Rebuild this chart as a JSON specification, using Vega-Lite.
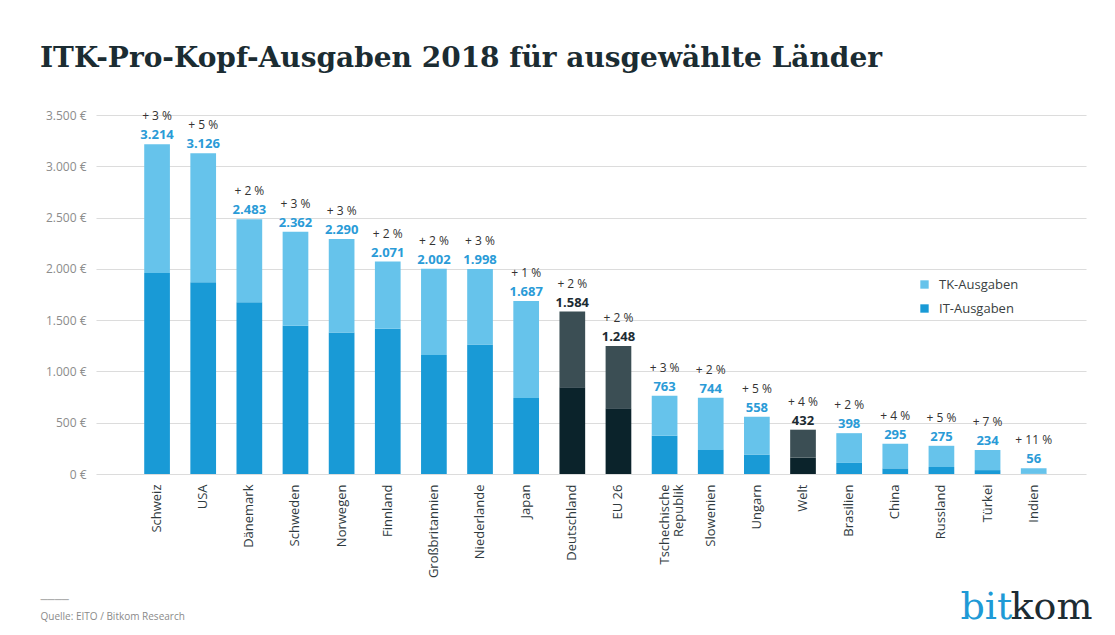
{
  "$schema": "https://vega.github.io/schema/vega-lite/v6.json",
  "autosize": {"type": "none"},
  "padding": {"left": 96, "top": 115, "right": 29, "bottom": 161},
  "width": 990,
  "height": 359,
  "background": "#ffffff",
  "title": {
    "text": "ITK-Pro-Kopf-Ausgaben 2018 für ausgewählte Länder",
    "anchor": "start",
    "frame": "group",
    "dx": -56,
    "offset": 36,
    "font": "DejaVu Serif",
    "fontSize": 28,
    "fontWeight": "bold",
    "color": "#1b2c32"
  },
  "datasets": {
    "segmente": [
      {"land": "Schweiz", "art": "IT", "segment": "IT-Ausgaben", "wert": 1960},
      {"land": "Schweiz", "art": "TK", "segment": "TK-Ausgaben", "wert": 1254},
      {"land": "USA", "art": "IT", "segment": "IT-Ausgaben", "wert": 1870},
      {"land": "USA", "art": "TK", "segment": "TK-Ausgaben", "wert": 1256},
      {"land": "Dänemark", "art": "IT", "segment": "IT-Ausgaben", "wert": 1675},
      {"land": "Dänemark", "art": "TK", "segment": "TK-Ausgaben", "wert": 808},
      {"land": "Schweden", "art": "IT", "segment": "IT-Ausgaben", "wert": 1445},
      {"land": "Schweden", "art": "TK", "segment": "TK-Ausgaben", "wert": 917},
      {"land": "Norwegen", "art": "IT", "segment": "IT-Ausgaben", "wert": 1380},
      {"land": "Norwegen", "art": "TK", "segment": "TK-Ausgaben", "wert": 910},
      {"land": "Finnland", "art": "IT", "segment": "IT-Ausgaben", "wert": 1415},
      {"land": "Finnland", "art": "TK", "segment": "TK-Ausgaben", "wert": 656},
      {"land": "Großbritannien", "art": "IT", "segment": "IT-Ausgaben", "wert": 1160},
      {"land": "Großbritannien", "art": "TK", "segment": "TK-Ausgaben", "wert": 842},
      {"land": "Niederlande", "art": "IT", "segment": "IT-Ausgaben", "wert": 1262},
      {"land": "Niederlande", "art": "TK", "segment": "TK-Ausgaben", "wert": 736},
      {"land": "Japan", "art": "IT", "segment": "IT-Ausgaben", "wert": 740},
      {"land": "Japan", "art": "TK", "segment": "TK-Ausgaben", "wert": 947},
      {"land": "Deutschland", "art": "IT", "segment": "IT-Ausgaben (hervorgehoben)", "wert": 845},
      {"land": "Deutschland", "art": "TK", "segment": "TK-Ausgaben (hervorgehoben)", "wert": 739},
      {"land": "EU 26", "art": "IT", "segment": "IT-Ausgaben (hervorgehoben)", "wert": 640},
      {"land": "EU 26", "art": "TK", "segment": "TK-Ausgaben (hervorgehoben)", "wert": 608},
      {"land": "Tschechische Republik", "art": "IT", "segment": "IT-Ausgaben", "wert": 372},
      {"land": "Tschechische Republik", "art": "TK", "segment": "TK-Ausgaben", "wert": 391},
      {"land": "Slowenien", "art": "IT", "segment": "IT-Ausgaben", "wert": 235},
      {"land": "Slowenien", "art": "TK", "segment": "TK-Ausgaben", "wert": 509},
      {"land": "Ungarn", "art": "IT", "segment": "IT-Ausgaben", "wert": 190},
      {"land": "Ungarn", "art": "TK", "segment": "TK-Ausgaben", "wert": 368},
      {"land": "Welt", "art": "IT", "segment": "IT-Ausgaben (hervorgehoben)", "wert": 160},
      {"land": "Welt", "art": "TK", "segment": "TK-Ausgaben (hervorgehoben)", "wert": 272},
      {"land": "Brasilien", "art": "IT", "segment": "IT-Ausgaben", "wert": 108},
      {"land": "Brasilien", "art": "TK", "segment": "TK-Ausgaben", "wert": 290},
      {"land": "China", "art": "IT", "segment": "IT-Ausgaben", "wert": 55},
      {"land": "China", "art": "TK", "segment": "TK-Ausgaben", "wert": 240},
      {"land": "Russland", "art": "IT", "segment": "IT-Ausgaben", "wert": 68},
      {"land": "Russland", "art": "TK", "segment": "TK-Ausgaben", "wert": 207},
      {"land": "Türkei", "art": "IT", "segment": "IT-Ausgaben", "wert": 38},
      {"land": "Türkei", "art": "TK", "segment": "TK-Ausgaben", "wert": 196},
      {"land": "Indien", "art": "IT", "segment": "IT-Ausgaben", "wert": 5},
      {"land": "Indien", "art": "TK", "segment": "TK-Ausgaben", "wert": 51}
    ],
    "laender": [
      {"land": "Schweiz", "gesamt": 3214, "label": "3.214", "wachstum": "+ 3 %", "hervorgehoben": false},
      {"land": "USA", "gesamt": 3126, "label": "3.126", "wachstum": "+ 5 %", "hervorgehoben": false},
      {"land": "Dänemark", "gesamt": 2483, "label": "2.483", "wachstum": "+ 2 %", "hervorgehoben": false},
      {"land": "Schweden", "gesamt": 2362, "label": "2.362", "wachstum": "+ 3 %", "hervorgehoben": false},
      {"land": "Norwegen", "gesamt": 2290, "label": "2.290", "wachstum": "+ 3 %", "hervorgehoben": false},
      {"land": "Finnland", "gesamt": 2071, "label": "2.071", "wachstum": "+ 2 %", "hervorgehoben": false},
      {"land": "Großbritannien", "gesamt": 2002, "label": "2.002", "wachstum": "+ 2 %", "hervorgehoben": false},
      {"land": "Niederlande", "gesamt": 1998, "label": "1.998", "wachstum": "+ 3 %", "hervorgehoben": false},
      {"land": "Japan", "gesamt": 1687, "label": "1.687", "wachstum": "+ 1 %", "hervorgehoben": false},
      {"land": "Deutschland", "gesamt": 1584, "label": "1.584", "wachstum": "+ 2 %", "hervorgehoben": true},
      {"land": "EU 26", "gesamt": 1248, "label": "1.248", "wachstum": "+ 2 %", "hervorgehoben": true},
      {"land": "Tschechische Republik", "gesamt": 763, "label": "763", "wachstum": "+ 3 %", "hervorgehoben": false},
      {"land": "Slowenien", "gesamt": 744, "label": "744", "wachstum": "+ 2 %", "hervorgehoben": false},
      {"land": "Ungarn", "gesamt": 558, "label": "558", "wachstum": "+ 5 %", "hervorgehoben": false},
      {"land": "Welt", "gesamt": 432, "label": "432", "wachstum": "+ 4 %", "hervorgehoben": true},
      {"land": "Brasilien", "gesamt": 398, "label": "398", "wachstum": "+ 2 %", "hervorgehoben": false},
      {"land": "China", "gesamt": 295, "label": "295", "wachstum": "+ 4 %", "hervorgehoben": false},
      {"land": "Russland", "gesamt": 275, "label": "275", "wachstum": "+ 5 %", "hervorgehoben": false},
      {"land": "Türkei", "gesamt": 234, "label": "234", "wachstum": "+ 7 %", "hervorgehoben": false},
      {"land": "Indien", "gesamt": 56, "label": "56", "wachstum": "+ 11 %", "hervorgehoben": false}
    ]
  },
  "resolve": {"axis": {"y": "independent"}},
  "layer": [
    {
      "data": {"name": "segmente"},
      "mark": {"type": "bar"},
      "encoding": {
        "x": {
          "field": "land",
          "type": "nominal",
          "sort": null,
          "scale": {"paddingInner": 0.443, "paddingOuter": 0.95, "align": 0.55},
          "axis": {
            "labelAngle": 270,
            "labelPadding": 10,
            "labelFontSize": 13,
            "labelColor": "#2f3a3e",
            "labelFont": "Open Sans",
            "labelLineHeight": 14,
            "labelExpr": "datum.value == 'Tschechische Republik' ? ['Tschechische', 'Republik'] : datum.value",
            "ticks": false,
            "domain": false,
            "grid": false,
            "title": ["────", "Quelle: EITO / Bitkom Research"],
            "titleX": -56,
            "titleY": 128,
            "titleAnchor": "start",
            "titleAlign": "left",
            "titleBaseline": "alphabetic",
            "titleFont": "Open Sans",
            "titleFontSize": 10,
            "titleFontWeight": "normal",
            "titleColor": "#8a8a8a",
            "titleLineHeight": 17
          }
        },
        "y": {
          "field": "wert",
          "type": "quantitative",
          "stack": "zero",
          "scale": {"domain": [0, 3500], "nice": false},
          "axis": {
            "values": [0, 500, 1000, 1500, 2000, 2500, 3000, 3500],
            "labelExpr": "replace(format(datum.value, ','), ',', '.') + ' €'",
            "labelFont": "Open Sans",
            "labelFontSize": 12,
            "labelColor": "#8c8c8c",
            "labelPadding": 10,
            "ticks": false,
            "domain": false,
            "grid": true,
            "gridColor": "#dcdcdc",
            "gridWidth": 1.2,
            "title": "bit",
            "titleAngle": 0,
            "titleX": 864,
            "titleY": 503,
            "titleAlign": "left",
            "titleBaseline": "alphabetic",
            "titleFont": "DejaVu Serif",
            "titleFontSize": 38,
            "titleFontWeight": "normal",
            "titleColor": "#1f9ad6"
          }
        },
        "color": {
          "field": "segment",
          "type": "nominal",
          "scale": {
            "domain": ["TK-Ausgaben", "IT-Ausgaben", "TK-Ausgaben (hervorgehoben)", "IT-Ausgaben (hervorgehoben)"],
            "range": ["#66c3eb", "#199ad6", "#3b4e54", "#0b232b"]
          },
          "legend": {
            "values": ["TK-Ausgaben", "IT-Ausgaben"],
            "title": null,
            "orient": "none",
            "legendX": 822,
            "legendY": 163,
            "symbolType": "square",
            "symbolSize": 70,
            "symbolStrokeWidth": 0,
            "labelFont": "Open Sans",
            "labelFontSize": 13,
            "labelColor": "#3a3f42",
            "rowPadding": 10,
            "labelOffset": 8
          }
        },
        "order": {"field": "art", "sort": "ascending"}
      }
    },
    {
      "data": {"name": "laender"},
      "mark": {"type": "text", "baseline": "bottom", "dy": -2, "font": "Open Sans", "fontWeight": "bold", "fontSize": 13},
      "encoding": {
        "x": {"field": "land", "type": "nominal", "sort": null},
        "y": {
          "field": "gesamt",
          "type": "quantitative",
          "axis": {
            "orient": "right",
            "labels": false,
            "ticks": false,
            "domain": false,
            "grid": false,
            "title": "kom",
            "titleAngle": 0,
            "titleX": -76,
            "titleY": 503,
            "titleAlign": "left",
            "titleBaseline": "alphabetic",
            "titleFont": "DejaVu Serif",
            "titleFontSize": 38,
            "titleFontWeight": "normal",
            "titleColor": "#1d2c33"
          }
        },
        "text": {"field": "label"},
        "color": {
          "condition": {"test": "datum.hervorgehoben", "value": "#1d2c33"},
          "value": "#2a9bd7"
        }
      }
    },
    {
      "data": {"name": "laender"},
      "mark": {"type": "text", "baseline": "bottom", "dy": -21, "font": "Open Sans", "fontSize": 12, "color": "#333333"},
      "encoding": {
        "x": {"field": "land", "type": "nominal", "sort": null},
        "y": {"field": "gesamt", "type": "quantitative", "axis": null},
        "text": {"field": "wachstum"}
      }
    }
  ],
  "config": {
    "view": {"stroke": null}
  }
}
